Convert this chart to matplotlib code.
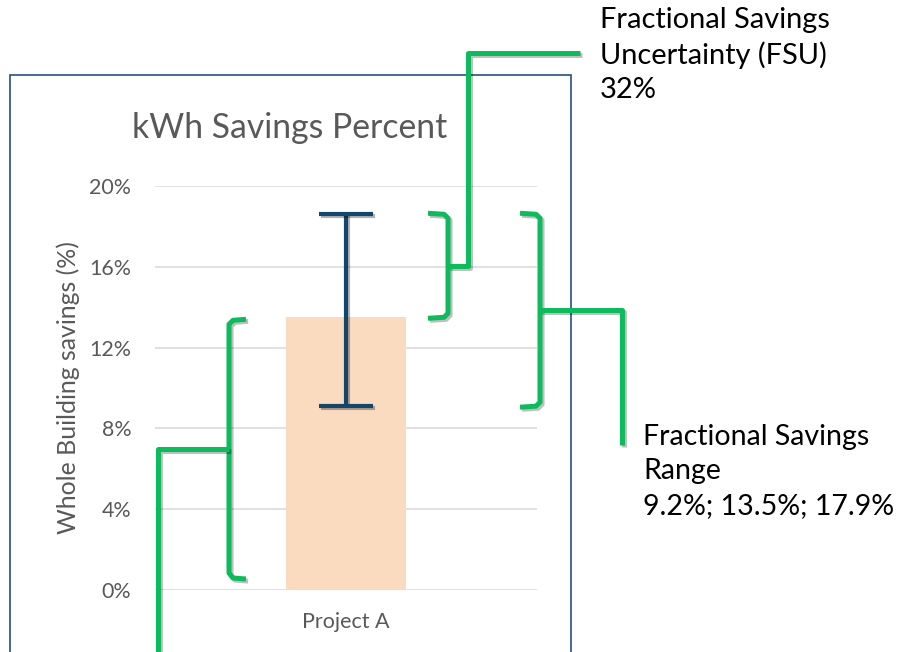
import matplotlib.pyplot as plt
import matplotlib.patheffects as pe
from matplotlib.lines import Line2D
from matplotlib.patches import Rectangle
from matplotlib.transforms import IdentityTransform

W, H = 898, 652

# --- data ---
categories = ['Project A']
savings = [13.5]
err_low = [9.1]
err_high = [18.6]
y_ticks = [0, 4, 8, 12, 16, 20]
title = 'kWh Savings Percent'
y_label = 'Whole Building savings (%)'
fsu_label = 'Fractional Savings\nUncertainty (FSU)\n32%'
range_label = 'Fractional Savings\nRange\n9.2%; 13.5%; 17.9%'

GRAY = '#595959'
GREEN = '#0DBA5C'
NAVY = '#12466B'

plt.rcParams['font.family'] = ['Lato', 'DejaVu Sans']

fig = plt.figure(figsize=(W / 100, H / 100), dpi=100)
ax = fig.add_axes([155 / W, 1 - 590 / H, 382 / W, 404 / H])

ax.bar(categories, savings, width=0.314, color='#FADBC0', zorder=2)
eb = ax.errorbar(categories, savings,
                 yerr=[[savings[0] - err_low[0]], [err_high[0] - savings[0]]],
                 fmt='none', ecolor=NAVY, elinewidth=3, capsize=19.5, capthick=3, zorder=3)
shadow = [pe.SimpleLineShadow(offset=(1.5, -1.5), alpha=0.3), pe.Normal()]
for art in eb.lines[1] + eb.lines[2]:
    art.set_path_effects(shadow)

ax.set_xlim(-0.5, 0.5)
ax.set_ylim(0, 20)
ax.set_yticks(y_ticks)
ax.set_yticklabels([f'{t}%' for t in y_ticks])
ax.grid(axis='y', color='#D9D9D9', lw=1.1, zorder=0)
ax.set_axisbelow(True)
for s in ax.spines.values():
    s.set_visible(False)
ax.tick_params(axis='y', length=0, pad=17, labelsize=15.4, labelcolor=GRAY)
ax.tick_params(axis='x', length=0, pad=16, labelsize=15.5, labelcolor=GRAY)

fig.text(290 / W, 1 - 128 / H, title, ha='center', va='center', fontsize=24.3, color=GRAY)
fig.text(68 / W, 1 - 388 / H, y_label, ha='center', va='center', rotation=90,
         fontsize=17.9, color=GRAY)

# chart frame
fig.add_artist(Rectangle((10, -20), 561, H - 75 + 20, transform=IdentityTransform(),
                         fill=False, edgecolor='#25507F', lw=1.2))


def yp(v):
    # image y (from top) for a data value
    return H - ax.transData.transform((0, v))[1]


def gline(pts):
    xs = [p[0] for p in pts]
    ys = [H - p[1] for p in pts]
    fig.add_artist(Line2D(xs, ys, transform=IdentityTransform(), color=GREEN, lw=3.6,
                          solid_joinstyle='round', solid_capstyle='butt',
                          path_effects=[pe.SimpleLineShadow(offset=(1.5, -1.5), alpha=0.25),
                                        pe.Normal()]))


# FSU bracket
top, bot = yp(err_high[0]), yp(savings[0])
mid = (top + bot) / 2
gline([(428, top - 1), (444, top), (448, top + 4), (448, bot - 4), (444, bot), (428, bot + 1)])
gline([(448, mid), (468, mid), (468, 53), (580, 53)])

# range bracket
top, bot = yp(err_high[0]), yp(err_low[0])
mid = (top + bot) / 2
gline([(520, top - 1), (536, top), (540, top + 4), (540, bot - 4), (536, bot), (520, bot + 1)])
gline([(540, mid), (622, mid), (622, 445)])

# savings bracket
top, bot = yp(savings[0]) + 2, yp(0) - 12
mid = (top + bot) / 2
gline([(246, top), (233, top + 1), (229, top + 5), (229, bot - 5), (233, bot), (246, bot + 1)])
gline([(229, mid), (158, mid), (158, H + 10)])

fig.text(600 / W, 1 - 7 / H, fsu_label, ha='left', va='top', fontsize=20.9,
         linespacing=1.38, color='black')
fig.text(643 / W, 1 - 424 / H, range_label, ha='left', va='top', fontsize=20.5,
         linespacing=1.4, color='black')

fig.savefig('out.png', dpi=100)
